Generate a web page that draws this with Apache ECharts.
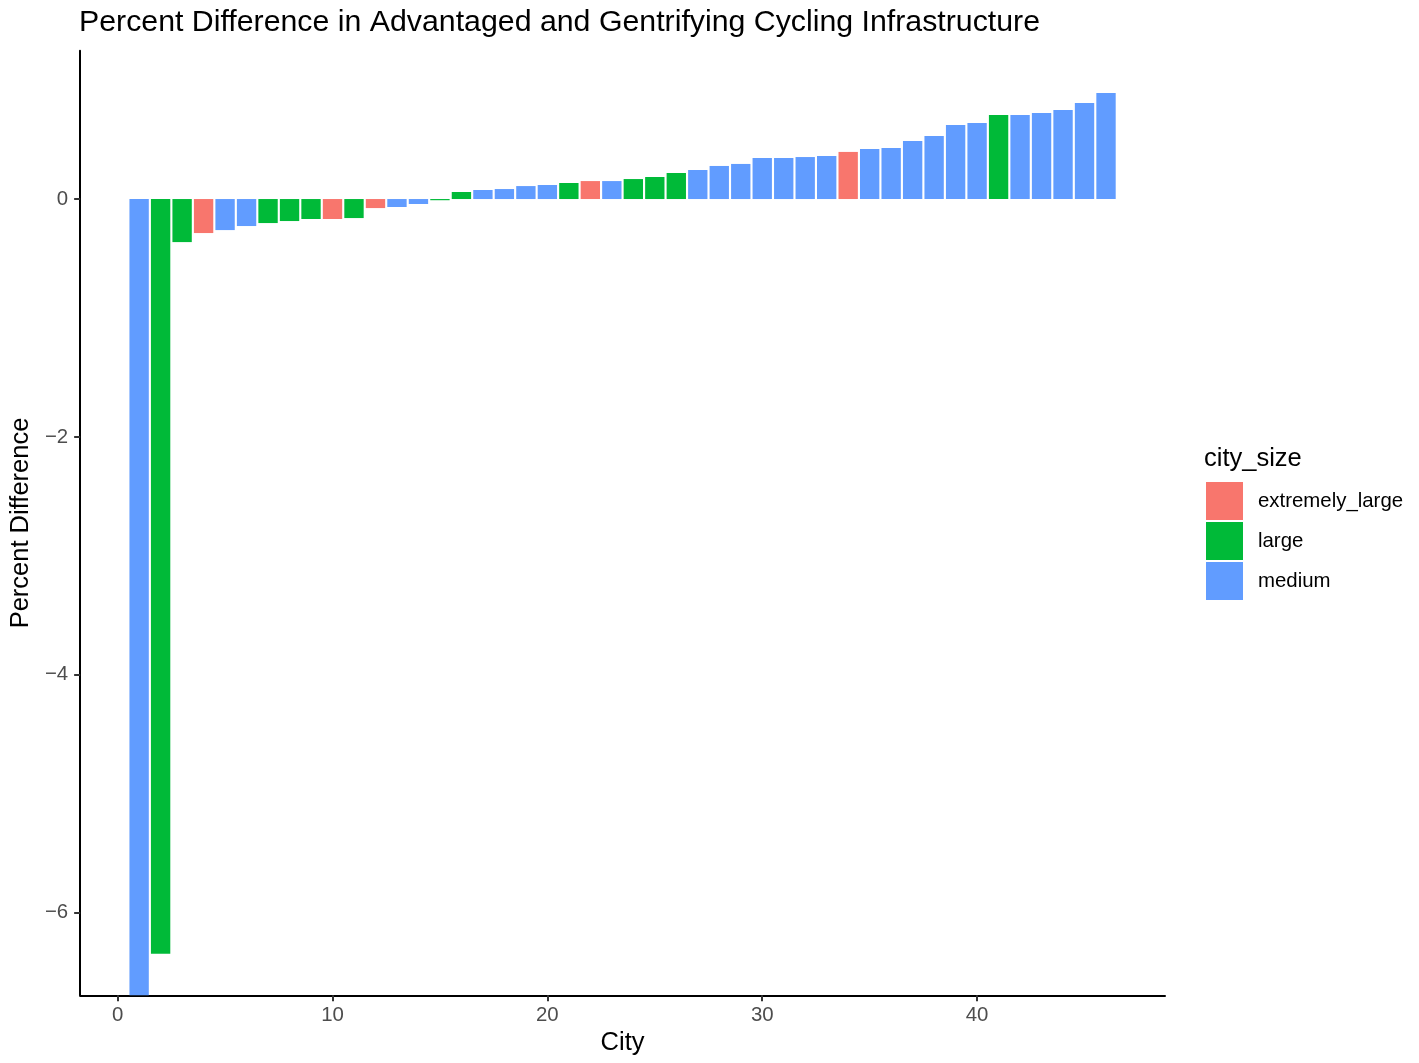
<!DOCTYPE html>
<html>
<head>
<meta charset="utf-8">
<script src="https://cdn.jsdelivr.net/npm/echarts@6/dist/echarts.min.js"></script>
<style>
html,body{margin:0;padding:0;background:#fff;}
#chart{width:1419px;height:1063px;}
</style>
</head>
<body>
<div id="chart"></div>
<script>
// City index (x) for each bar
var cities = [1,2,3,4,5,6,7,8,9,10,11,12,13,14,15,16,17,18,19,20,21,22,23,24,25,26,27,28,29,30,31,32,33,34,35,36,37,38,39,40,41,42,43,44,45,46];
// Percent difference per city (bar 1 runs past the lower limit; its value is estimated)
var percentDiff = [-7.0,-6.345,-0.362,-0.286,-0.261,-0.227,-0.202,-0.185,-0.168,-0.168,-0.160,-0.076,-0.067,-0.042,-0.010,0.059,0.076,0.084,0.109,0.118,0.135,0.151,0.151,0.168,0.185,0.219,0.244,0.278,0.295,0.345,0.345,0.353,0.362,0.396,0.421,0.429,0.488,0.530,0.623,0.640,0.707,0.707,0.724,0.749,0.808,0.892];
// City size class per bar
var citySize = ['medium','large','large','extremely_large','medium','medium','large','large','large','extremely_large','large','extremely_large','medium','medium','large','large','medium','medium','medium','medium','large','extremely_large','medium','large','large','large','medium','medium','medium','medium','medium','medium','medium','extremely_large','medium','medium','medium','medium','medium','medium','large','medium','medium','medium','medium','medium'];
var sizeLevels = ['extremely_large','large','medium'];
var sizeColors = ['#F8766D','#00BA38','#619CFF'];
var xTicks = [0,10,20,30,40];
var yTicks = [-6,-4,-2,0];

var FONT = 'Liberation Sans, Arial, Helvetica, sans-serif';
var chart = echarts.init(document.getElementById('chart'), null, {renderer:'canvas'});

var series = sizeLevels.map(function(level, li){
  var d = [];
  for (var i = 0; i < cities.length; i++) {
    if (citySize[i] === level) d.push([cities[i], percentDiff[i]]);
  }
  return {
    name: level,
    type: 'bar',
    data: d,
    barWidth: 19.36,
    barGap: '-100%',
    clip: true,
    itemStyle: {color: sizeColors[li]},
    emphasis: {disabled: true},
    animation: false
  };
});

function fmt(v){ return v < 0 ? '\u2212' + Math.abs(v) : String(v); }

chart.setOption({
  animation: false,
  backgroundColor: '#ffffff',
  title: {
    text: 'Percent Difference in Advantaged and Gentrifying Cycling Infrastructure',
    left: 74,
    top: 3,
    textStyle: {fontFamily: FONT, fontSize: 30.3, fontWeight: 'normal', color: '#000000'}
  },
  grid: {left: 79, top: 50.7, width: 1086, height: 944.6, containLabel: false},
  legend: {
    orient: 'vertical',
    left: 1201,
    top: 477,
    itemWidth: 37,
    itemHeight: 38,
    itemGap: 2,
    icon: 'rect',
    selectedMode: false,
    data: sizeLevels,
    textStyle: {fontFamily: FONT, fontSize: 20.4, color: '#000000', padding: [4,0,0,10]}
  },
  graphic: [{
    type: 'text',
    left: 1204,
    top: 446,
    style: {text: 'city_size', fontFamily: FONT, fontSize: 25.5, fill: '#000000'}
  }],
  xAxis: {
    type: 'value',
    min: -1.745,
    max: 48.745,
    name: 'City',
    nameLocation: 'middle',
    nameGap: 35,
    nameTextStyle: {fontFamily: FONT, fontSize: 25.5, color: '#000000'},
    splitLine: {show: false},
    axisLine: {show: true, onZero: false, lineStyle: {color: '#000000', width: 2}},
    axisTick: {show: true, customValues: xTicks, length: 6, lineStyle: {color: '#333333', width: 2}},
    axisLabel: {customValues: xTicks, margin: 10, fontFamily: FONT, fontSize: 20.4, color: '#4D4D4D', formatter: fmt}
  },
  yAxis: {
    type: 'value',
    min: -6.694,
    max: 1.247,
    name: 'Percent Difference',
    nameLocation: 'middle',
    nameGap: 38,
    nameRotate: 90,
    nameTextStyle: {fontFamily: FONT, fontSize: 25.5, color: '#000000'},
    splitLine: {show: false},
    axisLine: {show: true, onZero: false, lineStyle: {color: '#000000', width: 2}},
    axisTick: {show: true, customValues: yTicks, length: 6, lineStyle: {color: '#333333', width: 2}},
    axisLabel: {customValues: yTicks, margin: 12, fontFamily: FONT, fontSize: 20.4, color: '#4D4D4D', formatter: fmt}
  },
  series: series
});
</script>
</body>
</html>
